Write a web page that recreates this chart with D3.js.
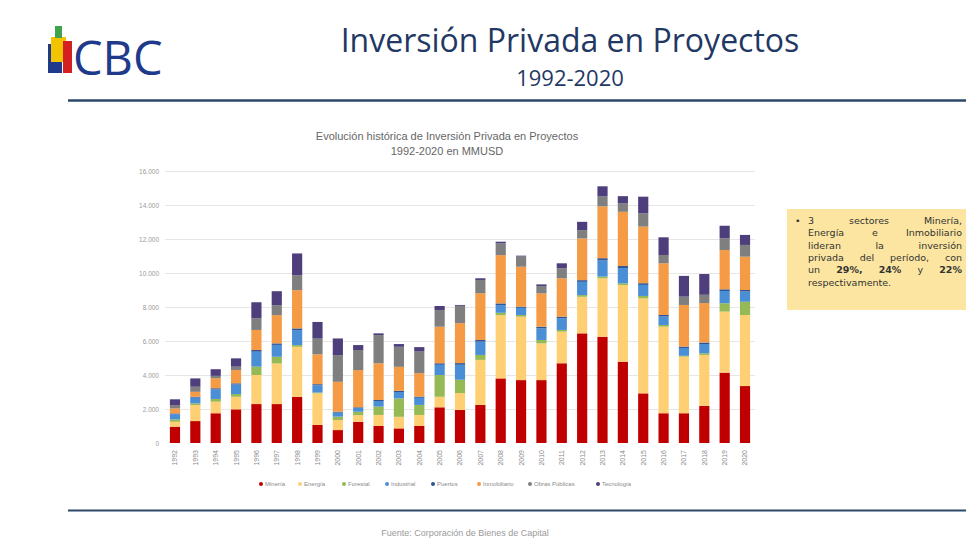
<!DOCTYPE html>
<html>
<head>
<meta charset="utf-8">
<script src="https://cdn.jsdelivr.net/npm/d3@7"></script>
<style>
  html, body { margin: 0; padding: 0; background: #ffffff; }
  svg { display: block; }
</style>
</head>
<body>
<svg id="chart" width="966" height="543"></svg>
<script>
// ---------------- DATA ----------------
const years = ["1992","1993","1994","1995","1996","1997","1998","1999","2000","2001","2002","2003","2004","2005","2006","2007","2008","2009","2010","2011","2012","2013","2014","2015","2016","2017","2018","2019","2020"];
const sectors = ["Minería","Energía","Forestal","Industrial","Puertos","Inmobiliario","Obras Públicas","Tecnología"];
const mineria       = [960,1290,1750,1980,2290,2290,2720,1060,760,1250,1000,860,1000,2100,1940,2240,3800,3700,3700,4690,6450,6250,4780,2920,1750,1750,2180,4140,3350];
const energia       = [290,940,680,740,1710,2390,2940,1860,590,390,650,680,650,620,1000,2650,3720,3730,2160,1860,2150,3440,4510,5590,5090,3330,3000,3590,4180];
const forestal      = [140,100,160,160,490,390,100,50,200,200,490,1080,590,1280,780,290,140,100,200,100,100,100,100,140,100,50,100,490,780];
const industrial    = [300,340,560,560,880,700,880,420,240,220,330,380,420,600,880,780,450,420,680,680,780,950,900,650,500,460,540,720,600];
const puertos       = [50,50,70,70,100,90,100,70,50,40,60,70,70,90,100,100,100,70,100,100,100,130,120,100,90,80,90,100,90];
const inmobiliario  = [290,290,590,780,1180,1660,2250,1760,1760,2190,2160,1410,1380,2150,2350,2750,2840,2350,1960,2260,2450,3050,3190,3330,3040,2450,2320,2310,1960];
const obrasPublicas = [200,300,140,200,690,590,880,920,1570,1180,1660,1180,1270,980,1020,780,690,600,430,590,490,590,490,780,490,490,490,690,690];
const tecnologia    = [340,490,390,490,940,820,1280,980,980,290,100,160,260,240,50,100,100,50,100,290,490,590,430,980,1040,1220,1220,740,590];
const yTicks = [0,2000,4000,6000,8000,10000,12000,14000,16000];
const calloutLines = [
  [{t:"3"},{t:"sectores"},{t:"Minería,"}],
  [{t:"Energía"},{t:"e"},{t:"Inmobiliario"}],
  [{t:"lideran"},{t:"la"},{t:"inversión"}],
  [{t:"privada"},{t:"del"},{t:"período,"},{t:"con"}],
  [{t:"un"},{t:"29%,",b:true},{t:"24%",b:true},{t:"y"},{t:"22%",b:true}],
  [{t:"respectivamente."}]
];

const seriesValues = [mineria, energia, forestal, industrial, puertos, inmobiliario, obrasPublicas, tecnologia];
const colors = ["#C00000","#FFD073","#95B954","#4A8ED6","#2F5597","#F59A45","#7F7F7F","#4E3F7C"];

// ---------------- BUILD ----------------
const svg = d3.select("#chart");

// Header logo
const logo = svg.append("g");
logo.append("rect").attr("x",48).attr("y",44).attr("width",14).attr("height",29).attr("fill","#1F3A8A");
logo.append("rect").attr("x",51).attr("y",37).attr("width",15).attr("height",25).attr("fill","#F2C400");
logo.append("rect").attr("x",63).attr("y",41).attr("width",9).attr("height",32).attr("fill","#D42020");
logo.append("rect").attr("x",55).attr("y",26).attr("width",7).attr("height",12).attr("fill","#3FA34D");
svg.append("text").attr("x",73).attr("y",75).text("CBC")
  .attr("font-family","Open Sans, sans-serif").attr("font-size",47).attr("fill","#1F3A8A");

// Title
svg.append("text").attr("x",570).attr("y",52).attr("text-anchor","middle")
  .attr("font-family","Open Sans, sans-serif").attr("font-size",32).attr("fill","#1F3864")
  .text("Inversión Privada en Proyectos");
svg.append("text").attr("x",570).attr("y",86).attr("text-anchor","middle")
  .attr("font-family","Open Sans, sans-serif").attr("font-size",22).attr("fill","#1F3864")
  .text("1992-2020");

// Separator lines
svg.append("line").attr("x1",68).attr("x2",966).attr("y1",100.5).attr("y2",100.5).attr("stroke","#2B4868").attr("stroke-width",2.5);
svg.append("line").attr("x1",68).attr("x2",966).attr("y1",510.5).attr("y2",510.5).attr("stroke","#2B4868").attr("stroke-width",2);

// Footer
svg.append("text").attr("x",465).attr("y",536).attr("text-anchor","middle")
  .attr("font-family","Liberation Sans, Arial, sans-serif").attr("font-size",9).attr("fill","#9a9a9a")
  .text("Fuente: Corporación de Bienes de Capital");

// Chart title
svg.append("text").attr("x",447).attr("y",140).attr("text-anchor","middle")
  .attr("font-family","Liberation Sans, Arial, sans-serif").attr("font-size",11).attr("fill","#666")
  .text("Evolución histórica de Inversión Privada en Proyectos");
svg.append("text").attr("x",447).attr("y",155).attr("text-anchor","middle")
  .attr("font-family","Liberation Sans, Arial, sans-serif").attr("font-size",11).attr("fill","#666")
  .text("1992-2020 en MMUSD");

// Scales
const x = d3.scaleBand().domain(years).range([164.8, 755.2]).paddingInner(0.5).paddingOuter(0.25);
const y = d3.scaleLinear().domain([0,16000]).range([443,171]);

// Grid
svg.append("g").selectAll("line").data(yTicks.slice(1)).join("line")
  .attr("x1",165).attr("x2",755)
  .attr("y1",d=>Math.round(y(d))+0.5).attr("y2",d=>Math.round(y(d))+0.5)
  .attr("stroke","#e6e6e6").attr("stroke-width",1);

// Y axis
const yAxis = svg.append("g").attr("transform","translate(159,0)")
  .call(d3.axisLeft(y).tickValues(yTicks).tickSize(0).tickPadding(0)
    .tickFormat(d => d3.format(",")(d).replace(/,/g,".")));
yAxis.select(".domain").remove();
yAxis.selectAll("text").attr("font-family","Liberation Sans, Arial, sans-serif").attr("font-size",6.5).attr("fill","#9a9a9a");

// Stack
const table = years.map((yr,i) => {
  const row = {year: yr};
  sectors.forEach((s,k) => row[s] = seriesValues[k][i]);
  return row;
});
const stacked = d3.stack().keys(sectors)(table);
svg.append("g").selectAll("g").data(stacked).join("g")
  .attr("fill",(d,i)=>colors[i])
  .selectAll("rect").data(d=>d).join("rect")
  .attr("x",d=>x(d.data.year)).attr("width",x.bandwidth())
  .attr("y",d=>y(d[1])).attr("height",d=>y(d[0])-y(d[1]));

// X axis
const xAxis = svg.append("g").attr("transform","translate(0,447)")
  .call(d3.axisBottom(x).tickSize(0).tickPadding(0));
xAxis.select(".domain").remove();
xAxis.selectAll("text")
  .attr("font-family","Liberation Sans, Arial, sans-serif").attr("font-size",7).attr("fill","#8a8a8a")
  .attr("transform","rotate(-90)").attr("text-anchor","end").attr("dy","0.35em")
  .attr("x",-3).attr("y",0);

// Legend
const legendX = [261,300,344,387,433,479,530,598];
const lg = svg.append("g").selectAll("g").data(sectors).join("g")
  .attr("transform",(d,i)=>`translate(${legendX[i]},486)`);
lg.append("circle").attr("r",2).attr("cx",0).attr("cy",-2).attr("fill",(d,i)=>colors[i]);
lg.append("text").attr("x",4).attr("y",0).text(d=>d)
  .attr("font-family","Liberation Sans, Arial, sans-serif").attr("font-size",6).attr("fill","#8a8a8a");

// Callout box
svg.append("rect").attr("x",787).attr("y",209).attr("width",190).attr("height",101).attr("fill","#FBE5A0");
svg.append("text").attr("x",795).attr("y",224).text("•")
  .attr("font-family","DejaVu Sans, sans-serif").attr("font-size",9.5).attr("fill","#333");
const left = 808, right = 962;
calloutLines.forEach((words,li) => {
  const yy = 224 + li*12.3;
  const g = svg.append("g");
  const nodes = words.map(w => g.append("text").attr("y",yy).text(w.t)
    .attr("font-family","DejaVu Sans, sans-serif").attr("font-size",9.5)
    .attr("font-weight",w.b ? 700 : 400).attr("fill","#333"));
  const widths = nodes.map(n => n.node().getComputedTextLength());
  const total = d3.sum(widths);
  const last = li === calloutLines.length - 1;
  const gap = (!last && words.length > 1) ? (right - left - total)/(words.length-1) : 3;
  let cx = left;
  nodes.forEach((n,k) => { n.attr("x",cx); cx += widths[k] + gap; });
});
</script>
</body>
</html>
